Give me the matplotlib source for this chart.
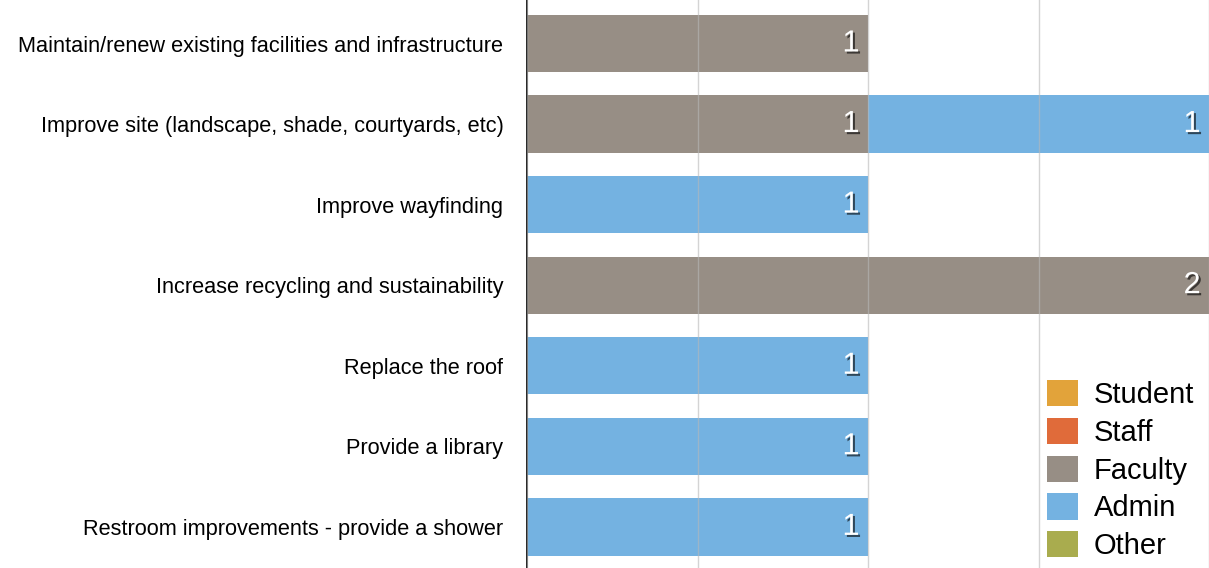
import numpy as np
import matplotlib
matplotlib.use('Agg')
from matplotlib import pyplot as plt
import matplotlib.patheffects as pe
from matplotlib.patches import Patch

# Responses per suggestion, split by respondent group
categories = ['Maintain/renew existing facilities and infrastructure',
              'Improve site (landscape, shade, courtyards, etc)',
              'Improve wayfinding',
              'Increase recycling and sustainability',
              'Replace the roof',
              'Provide a library',
              'Restroom improvements - provide a shower']
groups = ['Student', 'Staff', 'Faculty', 'Admin', 'Other']
student = [0, 0, 0, 0, 0, 0, 0]
staff = [0, 0, 0, 0, 0, 0, 0]
faculty = [1, 1, 0, 2, 0, 0, 0]
admin = [0, 1, 1, 0, 1, 1, 1]
other = [0, 0, 0, 0, 0, 0, 0]
colors = ['#E2A33A', '#E06B3A', '#978E85', '#74B2E1', '#A9AC4E']

plt.rcParams['font.family'] = ['Liberation Sans', 'DejaVu Sans']

fig = plt.figure(figsize=(12.09, 5.68), dpi=100)
ax = fig.add_axes([527 / 1209, 0, 682 / 1209, 1])

y = np.arange(len(categories))
left = np.zeros(len(categories))
shadow = [pe.SimplePatchShadow(offset=(1.5, -1.5), shadow_rgbFace='black', alpha=0.6), pe.Normal()]
for name, vals, col in zip(groups, [student, staff, faculty, admin, other], colors):
    vals = np.array(vals, dtype=float)
    ax.barh(y, vals, left=left, height=0.71, color=col, zorder=1)
    for yi, (l, v) in enumerate(zip(left, vals)):
        if v > 0:
            ax.text(l + v - 0.025, yi, '{:d}'.format(int(v)), ha='right', va='center',
                    color='white', fontsize=22, path_effects=shadow, zorder=3)
    left += vals

ax.set_xlim(0, 2)
ax.set_ylim(6.51, -0.54)
ax.set_xticks(np.arange(0, 2.01, 0.5))
ax.tick_params(axis='x', length=0, labelbottom=False)
ax.tick_params(axis='y', length=0, pad=17, labelsize=15.7)
ax.set_yticks(y)
ax.set_yticklabels(categories)
ax.grid(axis='x', color='#b8b8b8', linewidth=1, alpha=0.6, zorder=2)
ax.set_axisbelow(False)
for s in ['top', 'right', 'bottom']:
    ax.spines[s].set_visible(False)
ax.spines['left'].set_color('black')
ax.spines['left'].set_linewidth(1.2)

handles = [Patch(facecolor=c, edgecolor='none') for c in colors]
ax.legend(handles, groups, loc='lower right', bbox_to_anchor=(1.0, -0.012), frameon=True,
          facecolor='white', edgecolor='none', framealpha=1, fontsize=21,
          handlelength=1.05, handleheight=1.0, handletextpad=0.55, labelspacing=0.3,
          borderpad=0.2, borderaxespad=0.3)

fig.savefig('out.png', dpi=100)
